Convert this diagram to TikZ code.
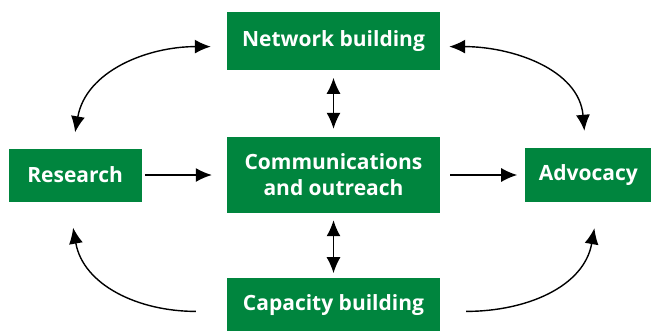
\documentclass[tikz,border=0pt]{standalone}
\usepackage{fontspec}
\setmainfont{Open Sans}
\usetikzlibrary{arrows.meta}
\usetikzlibrary{positioning}
\definecolor{boxgreen}{RGB}{0,133,62}
\tikzstyle{box} = [rectangle, fill=boxgreen, text=white, font=\bfseries\fontsize{21}{26}\selectfont,
 align=center, inner sep=0pt, minimum width=213pt]
\tikzstyle{arrow} = [line width=1.4pt, -{Latex[length=16pt,width=14pt]}]
\tikzstyle{twoway} = [line width=1.4pt, {Latex[length=16pt,width=14pt]}-{Latex[length=16pt,width=14pt]}]

\begin{document}
\begin{tikzpicture}[x=1pt, y=1pt]
	\useasboundingbox (0,0) rectangle (652,330);
	
	\node [box, minimum height=76pt] (comm) at (333.5,155) {Communications\\and outreach};
	\node [box, minimum height=58pt, above=67pt of comm] (net) {Network building};
	\node [box, minimum height=54pt, below=65pt of comm] (cap) {Capacity building};
	\node [box, minimum height=53pt, minimum width=133pt, left=85pt of comm] (res) {Research};
	\node [box, minimum height=54pt, minimum width=126pt, right=85pt of comm] (adv) {Advocacy};
	
	\draw [arrow] ([xshift=3pt]res.east) -- ([xshift=-15pt]comm.west);
	\draw [arrow] ([xshift=10pt]comm.east) -- ([xshift=-8pt]adv.west);
	
	\draw [twoway] ([yshift=-8pt]net.south) -- ([yshift=8pt]comm.north);
	\draw [twoway] ([yshift=-7pt]comm.south) -- ([yshift=5pt]cap.north);
	
	\draw [twoway] ([xshift=-16pt,yshift=-6pt]net.west) to[out=180, in=80] ([yshift=16pt]res.north);
	\draw [twoway] ([xshift=9pt,yshift=-6pt]net.east) to[out=0, in=95] ([xshift=-4pt,yshift=17pt]adv.north);
	
	\draw [arrow] ([xshift=-31pt,yshift=-6pt]cap.west) to[out=180, in=-80] ([xshift=-2pt,yshift=-26pt]res.south);
	\draw [arrow] ([xshift=26pt,yshift=-6pt]cap.east) to[out=0, in=-100] ([xshift=6pt,yshift=-26pt]adv.south);
	
\end{tikzpicture}
\end{document}
